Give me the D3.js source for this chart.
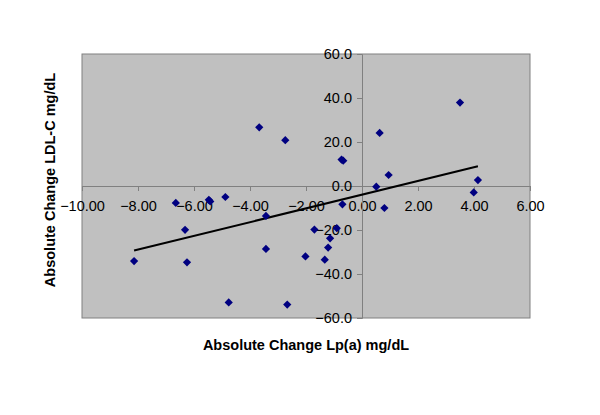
<!DOCTYPE html>
<meta charset="utf-8">
<style>
body { margin: 0; background: #fff; }
text { font-family: Arial, "Liberation Sans", sans-serif; }
.tick text { font-size: 14.5px; fill: #000; }
.title { font-size: 14.5px; font-weight: bold; fill: #000; }
</style>
<body>
<svg width="600" height="415"></svg>
<script src="https://d3js.org/d3.v7.min.js"></script>
<script>

// change in Lp(a) (x) and change in LDL-C (y)
var lpaChange = [-8.14, -6.65, -6.32, -6.25, -5.47, -5.42, -4.88, -4.76, -3.67, -3.43,
                 -3.43, -2.74, -2.67, -2.02, -1.70, -1.33, -1.21, -1.14, -0.90, -0.73,
                 -0.67, -0.70, 0.51, 0.63, 0.80, 0.95, 3.50, 3.99, 4.14];
var ldlChange = [-34.1, -7.7, -19.9, -34.7, -6.3, -7.0, -5.0, -52.9, 26.7, -13.6,
                 -28.6, 20.8, -53.9, -32.0, -19.8, -33.5, -28.0, -23.8, -19.2, 12.0,
                 11.5, -8.3, -0.3, 24.1, -10.0, 5.0, 37.9, -2.9, 2.7];
var xTicks = [-10, -8, -6, -4, -2, 0, 2, 4, 6];
var yTicks = [-60, -40, -20, 0, 20, 40, 60];
var xTitle = "Absolute Change Lp(a) mg/dL";
var yTitle = "Absolute Change LDL-C mg/dL";

var svg = d3.select("svg");
var plot = {left: 82, top: 54, right: 530, bottom: 318};

var x = d3.scaleLinear().domain([-10, 6]).range([plot.left, plot.right]);
var y = d3.scaleLinear().domain([-60, 60]).range([plot.bottom, plot.top]);

svg.append("rect")
    .attr("x", plot.left)
    .attr("y", plot.top)
    .attr("width", plot.right - plot.left)
    .attr("height", plot.bottom - plot.top)
    .attr("fill", "#c0c0c0")
    .attr("stroke", "#808080")
    .attr("stroke-width", 1);

// x axis runs through y = 0
svg.append("g")
    .attr("transform", "translate(0," + y(0) + ")")
    .call(d3.axisBottom(x)
        .tickValues(xTicks)
        .tickSize(5)
        .tickPadding(10)
        .tickFormat(d3.format(".2f")));

// y axis runs through x = 0
svg.append("g")
    .attr("transform", "translate(" + x(0) + ",0)")
    .call(d3.axisLeft(y)
        .tickValues(yTicks)
        .tickSize(5)
        .tickPadding(5)
        .tickFormat(d3.format(".1f")));

svg.selectAll(".domain, .tick line")
    .attr("stroke", "#808080");

// least squares trend line
var n = lpaChange.length;
var mx = d3.mean(lpaChange), my = d3.mean(ldlChange);
var sxy = d3.sum(lpaChange, function(v, i) { return (v - mx) * (ldlChange[i] - my); });
var sxx = d3.sum(lpaChange, function(v) { return (v - mx) * (v - mx); });
var slope = sxy / sxx, intercept = my - slope * mx;
var ext = d3.extent(lpaChange);

svg.append("line")
    .attr("x1", x(ext[0]))
    .attr("y1", y(intercept + slope * ext[0]))
    .attr("x2", x(ext[1]))
    .attr("y2", y(intercept + slope * ext[1]))
    .attr("stroke", "#000")
    .attr("stroke-width", 2);

svg.append("g")
  .selectAll("path")
    .data(d3.range(n))
  .enter().append("path")
    .attr("d", d3.symbol(d3.symbolSquare, 34))
    .attr("transform", function(i) {
      return "translate(" + x(lpaChange[i]) + "," + y(ldlChange[i]) + ") rotate(45)";
    })
    .attr("fill", "#000080");

svg.append("text")
    .attr("class", "title")
    .attr("x", (plot.left + plot.right) / 2)
    .attr("y", 350)
    .attr("text-anchor", "middle")
    .text(xTitle);

svg.append("text")
    .attr("class", "title")
    .attr("transform", "translate(55,180) rotate(-90)")
    .attr("text-anchor", "middle")
    .text(yTitle);

</script>
</body>
